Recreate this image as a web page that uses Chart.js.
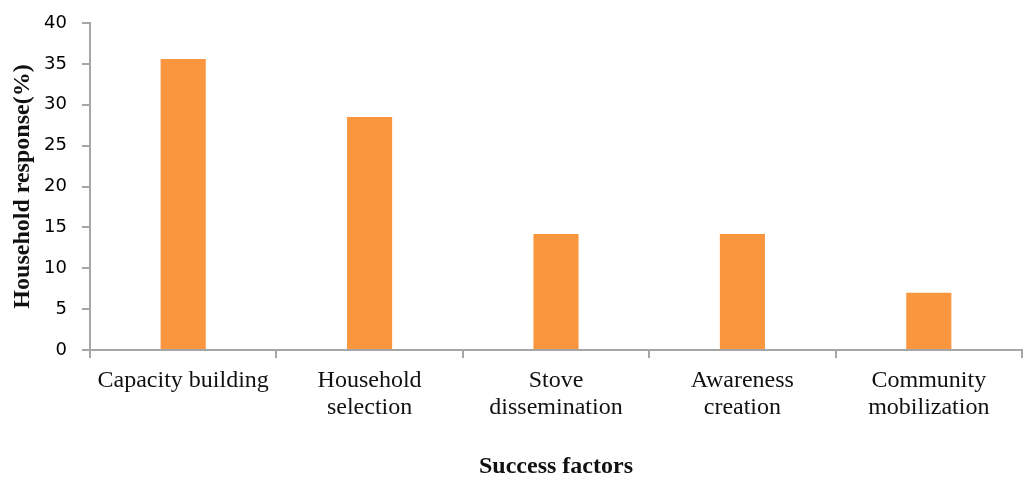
<!DOCTYPE html>
<html>
<head>
<meta charset="utf-8">
<script src="https://cdn.jsdelivr.net/npm/chart.js@4"></script>
<style>
html,body{margin:0;padding:0;background:#fff;}
#wrap{width:1025px;height:479px;}
</style>
</head>
<body>
<div id="wrap"><canvas id="c" width="1025" height="479"></canvas></div>
<script>
const categories = [["Capacity building"], ["Household", "selection"], ["Stove", "dissemination"], ["Awareness", "creation"], ["Community", "mobilization"]];
const responses = [35.6, 28.5, 14.2, 14.2, 7.0];
const yTicks = [0, 5, 10, 15, 20, 25, 30, 35, 40];

const axisColor = '#a6a6a6';
new Chart(document.getElementById('c'), {
  type: 'bar',
  data: {
    labels: categories,
    datasets: [{
      data: responses,
      backgroundColor: '#f9963e',
      borderWidth: 0,
      barPercentage: 0.242,
      categoryPercentage: 1.0
    }]
  },
  options: {
    responsive: false,
    animation: false,
    layout: { padding: { top: 23, right: 3, left: 0, bottom: 0 } },
    plugins: { legend: { display: false }, tooltip: { enabled: false } },
    scales: {
      x: {
        offset: true,
        grid: { display: true, drawOnChartArea: false, offset: true, color: axisColor, tickLength: 8, lineWidth: 2 },
        border: { display: true, color: axisColor, width: 2 },
        ticks: { color: '#111', font: { family: 'Liberation Serif', size: 24, lineHeight: 1.12 }, padding: 9, maxRotation: 0, autoSkip: false },
        title: { display: true, text: 'Success factors', color: '#111', font: { family: 'Liberation Serif', size: 24, weight: 'bold', lineHeight: 1.0 }, padding: { top: 0, bottom: 0 } },
        afterFit: (s) => { s.height = 129; }
      },
      y: {
        min: 0, max: 40,
        afterBuildTicks: (s) => { s.ticks = yTicks.map(v => ({ value: v })); },
        grid: { display: true, drawOnChartArea: false, color: axisColor, tickLength: 8, lineWidth: 2 },
        border: { display: true, color: axisColor, width: 2 },
        ticks: { color: '#000', font: { family: 'DejaVu Sans', size: 18 }, padding: 15 },
        title: { display: true, text: 'Household response(%)', color: '#111', font: { family: 'Liberation Serif', size: 24, weight: 'bold' }, padding: { top: 8, bottom: 0 } },
        afterFit: (s) => { s.width = 90; s.paddingTop = 0; s.paddingBottom = 0; }
      }
    }
  }
});
</script>
</body>
</html>
